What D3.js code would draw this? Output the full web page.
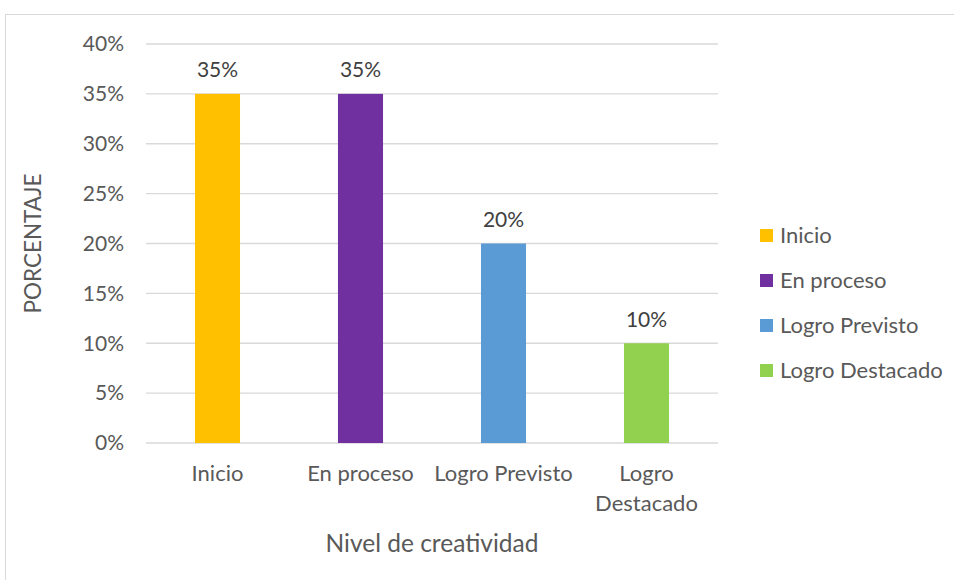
<!DOCTYPE html>
<meta charset="utf-8">
<head>
<style>
  body { margin: 0; background: #fff; }
  text { font-family: Lato, "Open Sans", sans-serif; fill: #595959; }
</style>
</head>
<body>
<script src="https://d3js.org/d3.v7.min.js"></script>
<div id="chart"></div>
<script>

var categories = ["Inicio", "En proceso", "Logro Previsto", "Logro Destacado"];
var values = [35, 35, 20, 10];
var colors = ["#ffc000", "#7030a0", "#5b9bd5", "#92d050"];
var yTicks = [0, 5, 10, 15, 20, 25, 30, 35, 40];

var width = 954, height = 580;
var plot = {left: 146, right: 718, top: 44, bottom: 443};

var svg = d3.select("#chart").append("svg")
  .attr("width", width)
  .attr("height", height);

// chart area border (only top/left visible in the picture)
svg.append("rect")
  .attr("x", 5.5).attr("y", 14.5)
  .attr("width", 960).attr("height", 580)
  .attr("fill", "none")
  .attr("stroke", "#d9d9d9");

var x = d3.scaleBand()
  .domain(categories)
  .range([plot.left, plot.right])
  .paddingInner(0.685)
  .paddingOuter(0.3425);

var y = d3.scaleLinear()
  .domain([0, 40])
  .range([plot.bottom, plot.top]);

// gridlines
svg.append("g")
  .selectAll("line")
  .data(yTicks)
  .enter().append("line")
  .attr("x1", plot.left).attr("x2", plot.right)
  .attr("y1", function(d) { return y(d); })
  .attr("y2", function(d) { return y(d); })
  .attr("stroke", "#d9d9d9")
  .attr("stroke-width", 1.3);

// y tick labels
svg.append("g")
  .selectAll("text")
  .data(yTicks)
  .enter().append("text")
  .attr("x", 124)
  .attr("y", function(d) { return y(d); })
  .attr("dy", "0.35em")
  .attr("text-anchor", "end")
  .style("font-size", "21px")
  .text(function(d) { return d + "%"; });

// bars
svg.append("g")
  .selectAll("rect")
  .data(categories)
  .enter().append("rect")
  .attr("x", function(d) { return x(d); })
  .attr("width", x.bandwidth())
  .attr("y", function(d, i) { return y(values[i]); })
  .attr("height", function(d, i) { return plot.bottom - y(values[i]); })
  .attr("fill", function(d, i) { return colors[i]; });

// value labels
svg.append("g")
  .selectAll("text")
  .data(categories)
  .enter().append("text")
  .attr("x", function(d) { return x(d) + x.bandwidth() / 2; })
  .attr("y", function(d, i) { return y(values[i]) - 24; })
  .attr("dy", "0.35em")
  .attr("text-anchor", "middle")
  .style("font-size", "21px")
  .style("fill", "#404040")
  .text(function(d, i) { return values[i] + "%"; });

// category labels (wrap the long one)
var catG = svg.append("g")
  .selectAll("text")
  .data(categories)
  .enter().append("text")
  .attr("text-anchor", "middle")
  .style("font-size", "22px");
catG.each(function(d) {
  var t = d3.select(this);
  var cx = x(d) + x.bandwidth() / 2;
  var lines = d == "Logro Destacado" ? ["Logro", "Destacado"] : [d];
  lines.forEach(function(l, k) {
    t.append("tspan").attr("x", cx).attr("y", 473 + k * 30).attr("dy", "0.35em").text(l);
  });
});

// axis titles
svg.append("text")
  .attr("x", 432).attr("y", 543)
  .attr("dy", "0.35em")
  .attr("text-anchor", "middle")
  .style("font-size", "24.5px")
  .text("Nivel de creatividad");

svg.append("text")
  .attr("transform", "translate(33,243.5) rotate(-90)")
  .attr("dy", "0.35em")
  .attr("text-anchor", "middle")
  .style("font-size", "22.5px")
  .text("PORCENTAJE");

// legend
var leg = svg.append("g")
  .selectAll("g")
  .data(categories)
  .enter().append("g")
  .attr("transform", function(d, i) { return "translate(760," + (235 + i * 45) + ")"; });
leg.append("rect")
  .attr("x", 0).attr("y", -6)
  .attr("width", 13).attr("height", 13)
  .attr("fill", function(d, i) { return colors[i]; });
leg.append("text")
  .attr("x", 20).attr("y", 0)
  .attr("dy", "0.35em")
  .style("font-size", "22px")
  .text(function(d) { return d; });

</script>
</body>
